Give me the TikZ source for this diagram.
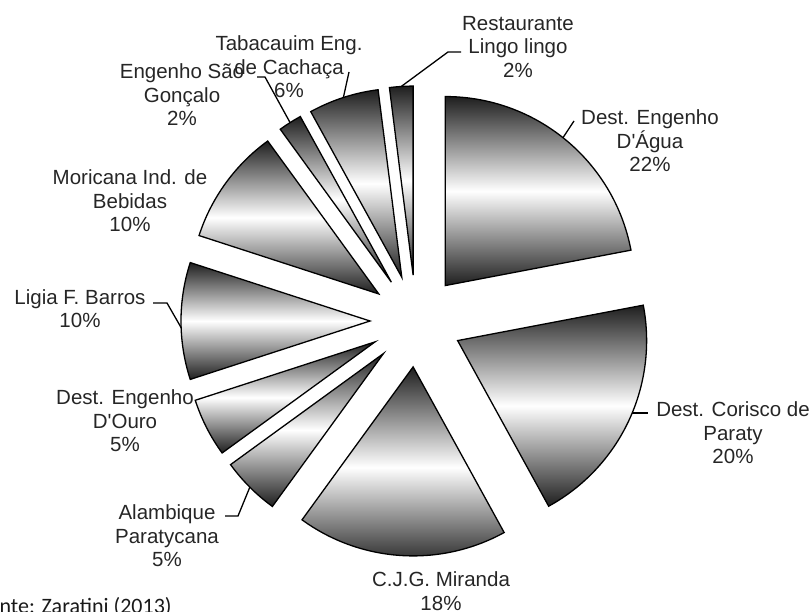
\documentclass[tikz,border=0pt]{standalone}
\usepackage{fontspec}
\setmainfont{Liberation Sans}[Ligatures=TeXOff]
\newfontfamily\fontefont{Carlito}
\usetikzlibrary{calc}
\begin{document}
\begin{tikzpicture}[x=1pt,y=-1pt,
  slicebox/.style={top color=black!88, bottom color=black!88, middle color=white, draw=black, line width=1.3pt, line join=miter},
  lbl/.style={align=center, inner sep=0pt, text=black!85, font=\fontsize{20.5}{23.5}\selectfont},
  leader/.style={draw=black, line width=1.3pt}]
\useasboundingbox (0,0) rectangle (811,612);
\coordinate (ctr) at (416,321);
\foreach \n/\s/\e in {agua/0/79.2, corisco/79.2/151.2, miranda/151.2/216, alambique/216/234, ouro/234/252, ligia/252/288, moricana/288/324, sgoncalo/324/331.2, tabacauim/331.2/352.8, restaurante/352.8/360}{
  \pgfmathsetmacro\m{(\s+\e)/2}
  \coordinate (apex-\n) at ($(ctr)+(\m-90:46)$);
  \shade[slicebox] (apex-\n) -- ++(\s-90:189) arc[start angle=\s-90, end angle=\e-90, radius=189] -- cycle;
  \coordinate (mid-\n) at ($(apex-\n)+(\m-90:189)$);
}
% labels
\node[lbl] (lagua) at (650,141) {Dest. Engenho\\D'Água\\22\%};
\node[lbl] (lcorisco) at (733,433) {Dest. Corisco de\\Paraty\\20\%};
\node[lbl] (lmiranda) at (441,591) {C.J.G. Miranda\\18\%};
\node[lbl] (lalambique) at (167,536) {Alambique\\Paratycana\\5\%};
\node[lbl] (louro) at (125,421) {Dest. Engenho\\D'Ouro\\5\%};
\node[lbl] (lligia) at (80,308.5) {Ligia F. Barros\\10\%};
\node[lbl] (lmoricana) at (130,201) {Moricana Ind. de\\Bebidas\\10\%};
\node[lbl] (lsgoncalo) at (182,95) {Engenho São\\Gonçalo\\2\%};
\node[lbl] (ltabacauim) at (289,67) {Tabacauim Eng.\\de Cachaça\\6\%};
\node[lbl] (lrestaurante) at (518,47) {Restaurante\\Lingo lingo\\2\%};
\node[anchor=base west, inner sep=0pt, text=black!90, font=\fontefont\fontsize{22}{26}\selectfont] (fonte) at (-22,613) {Fonte: Zaratini (2013)};
% leader points
\coordinate (pagua) at ($(apex-agua)+(-51.5:189)$);
\coordinate (kagua) at (574,121);
\coordinate (pcorisco) at ($(apex-corisco)+(22.5:189)$);
\coordinate (pligia) at ($(apex-ligia)+(178:189)$);
\coordinate (kligia) at (167,303);
\coordinate (eligia) at (153,303);
\coordinate (kalambique) at (238,516);
\coordinate (ealambique) at (225,516);
\coordinate (ksgoncalo) at (265,77);
\coordinate (esgoncalo) at (257,77);
\coordinate (ktabacauim) at (349,72);
\coordinate (krestaurante) at (448,52);
\coordinate (erestaurante) at (461,52);
% leaders
\draw[leader] (pagua) -- (kagua);
\draw[leader] (pcorisco) -- (pcorisco -| 648,0);
\draw[leader] (pligia) -- (kligia) -- (eligia);
\draw[leader] (mid-alambique) -- (kalambique) -- (ealambique);
\draw[leader] (mid-sgoncalo) -- (ksgoncalo) -- (esgoncalo);
\draw[leader] (mid-tabacauim) -- (ktabacauim);
\draw[leader] (mid-restaurante) -- (krestaurante) -- (erestaurante);
\end{tikzpicture}
\end{document}
